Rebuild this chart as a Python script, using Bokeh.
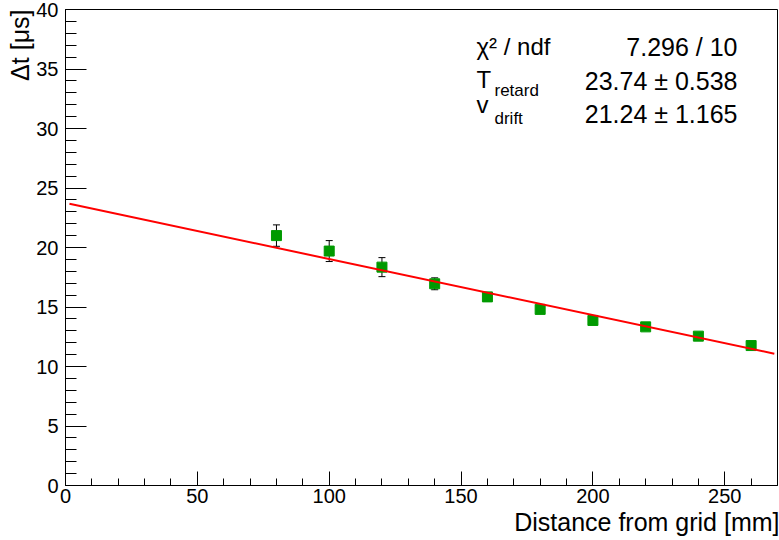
from bokeh.plotting import figure
from bokeh.models import Range1d, Label, Whisker, ColumnDataSource, TeeHead, SingleIntervalTicker, Title
from bokeh.embed import file_html
from bokeh.resources import INLINE

# ---- data ----
distance = [80, 100, 120, 140, 160, 180, 200, 220, 240, 260]
delta_t = [21.0, 19.7, 18.35, 16.95, 15.85, 14.8, 13.87, 13.33, 12.55, 11.76]
delta_t_err = [0.9, 0.88, 0.8, 0.5, 0.35, 0.3, 0.2, 0.2, 0.2, 0.2]
fit_x = [1.5, 268.8]
fit_y = [23.67, 11.08]
stat_names = ["χ² / ndf", "T", "v"]
stat_subs = ["", "retard", "drift"]
stat_values = ["7.296 / 10", "23.74 ± 0.538", "21.24 ± 1.165"]
x_title = "Distance from grid [mm]"
y_title = "Δt [μs]"

FONT = "Liberation Sans"
W, H = 779, 540
X0, X1, Y0, Y1 = 0, 270, 0, 40
# frame in picture pixels
FL, FR, FT, FB = 65, 777, 9, 485

def dx(px):
    return X0 + (px - FL) * (X1 - X0) / (FR - FL)

def dy(py):
    return Y0 + (FB - py) * (Y1 - Y0) / (FB - FT)

p = figure(width=W, height=H, x_range=Range1d(X0, X1), y_range=Range1d(Y0, Y1),
           output_backend="svg", toolbar_location=None,
           min_border_left=FL, min_border_right=W - FR, min_border_top=FT,
           min_border_bottom=H - FB)
p.grid.visible = False
p.outline_line_color = "black"
p.outline_line_width = 1
p.background_fill_color = "white"
p.border_fill_color = "white"

for ax in p.xaxis:
    ax.ticker = SingleIntervalTicker(interval=50, num_minor_ticks=5)
    ax.major_tick_in = 14
    ax.major_tick_out = 0
    ax.minor_tick_in = 7
    ax.minor_tick_out = 0
    ax.major_label_standoff = 3
for ax in p.yaxis:
    ax.ticker = SingleIntervalTicker(interval=5, num_minor_ticks=5)
    ax.major_tick_in = 21
    ax.major_tick_out = 0
    ax.minor_tick_in = 11
    ax.minor_tick_out = 0
    ax.major_label_standoff = 7
for ax in list(p.xaxis) + list(p.yaxis):
    ax.axis_line_color = "black"
    ax.major_tick_line_color = "black"
    ax.minor_tick_line_color = "black"
    ax.major_label_text_font = FONT
    ax.major_label_text_font_size = "20px"
    ax.major_label_text_color = "black"

src = ColumnDataSource(dict(
    x=distance, y=delta_t,
    lo=[v - e for v, e in zip(delta_t, delta_t_err)],
    hi=[v + e for v, e in zip(delta_t, delta_t_err)],
))
p.add_layout(Whisker(source=src, base="x", lower="lo", upper="hi", line_color="black", line_width=1,
                     upper_head=TeeHead(size=7, line_color="black", line_width=1),
                     lower_head=TeeHead(size=7, line_color="black", line_width=1)))
p.scatter("x", "y", source=src, marker="square", size=10, fill_color="#009a00", line_color="#009a00")
p.line(fit_x, fit_y, line_color="red", line_width=2)

# axis titles (right-aligned, ROOT style)
p.add_layout(Title(text=x_title, align="right", text_font=FONT, text_font_size="25px",
                   text_font_style="normal", text_color="black", standoff=0, offset=-2), "below")
p.add_layout(Title(text=y_title, align="right", text_font=FONT, text_font_size="25px",
                   text_font_style="normal", text_color="black", standoff=0), "left")

# stats box
name_mid = [46, 79, 104]
sub_mid = [0, 90, 118]
value_mid = [46, 80, 113]
for i in range(3):
    p.add_layout(Label(x=dx(476), y=dy(name_mid[i]), text=stat_names[i], text_font=FONT,
                       text_font_size="24px", text_align="left", text_baseline="middle", text_color="black"))
    if stat_subs[i]:
        p.add_layout(Label(x=dx(494), y=dy(sub_mid[i]), text=stat_subs[i], text_font=FONT,
                           text_font_size="17px", text_align="left", text_baseline="middle", text_color="black"))
    p.add_layout(Label(x=dx(737), y=dy(value_mid[i]), text=stat_values[i], text_font=FONT,
                       text_font_size="25px", text_align="right", text_baseline="middle", text_color="black"))

open("out.html", "w").write(file_html(p, INLINE))
